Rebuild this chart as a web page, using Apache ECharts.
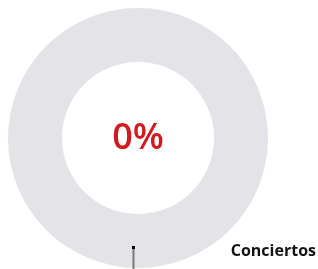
<!DOCTYPE html>
<html lang="es">
<head>
    <meta charset="UTF-8">
    <title>Conciertos</title>
    <style>
        html,body{
            padding: 0;
            margin: 0;
            width: 100%;
            height: 100%;
            background: #fff;
        }
        .chart{
            width: 318px;
            height: 269px;
        }
    </style>
    <script src="https://cdn.jsdelivr.net/npm/echarts@6/dist/echarts.min.js"></script>
</head>
<body>
<div class="chart"></div>
<script>
    let category = 'Conciertos';
    let names = ['Conciertos', 'Resto'];
    let values = [0, 100];
    let percent = '0%';

    let chart = echarts.init(document.querySelector('.chart'));

    let center = [138, 138];

    let option = {
        animation: false,
        title: {
            text: category,
            right: 2,
            top: 243,
            padding: 0,
            textStyle: {
                fontFamily: 'Open Sans',
                fontSize: 16,
                fontWeight: 'bold',
                color: '#111'
            }
        },
        series: [{
            type: 'pie',
            center: center,
            radius: [76, 130],
            silent: true,
            label: {show: false},
            labelLine: {show: false},
            data: names.map((n, i) => ({
                name: n,
                value: values[i],
                itemStyle: {color: i == 0 ? '#d3191f' : '#e4e4e8'}
            }))
        }],
        graphic: [{
            type: 'text',
            z: 100,
            x: center[0],
            y: center[1] + 1,
            style: {
                text: percent,
                fill: '#d3191f',
                font: '600 36px "Open Sans"',
                align: 'center',
                verticalAlign: 'middle'
            }
        }, {
            type: 'line',
            z: 100,
            shape: {x1: 133.5, y1: 248, x2: 133.5, y2: 269},
            style: {stroke: '#777', lineWidth: 2}
        }, {
            type: 'rect',
            z: 101,
            shape: {x: 132, y: 246, width: 3, height: 3},
            style: {fill: '#000'}
        }]
    };

    chart.setOption(option);
</script>
</body>
</html>
